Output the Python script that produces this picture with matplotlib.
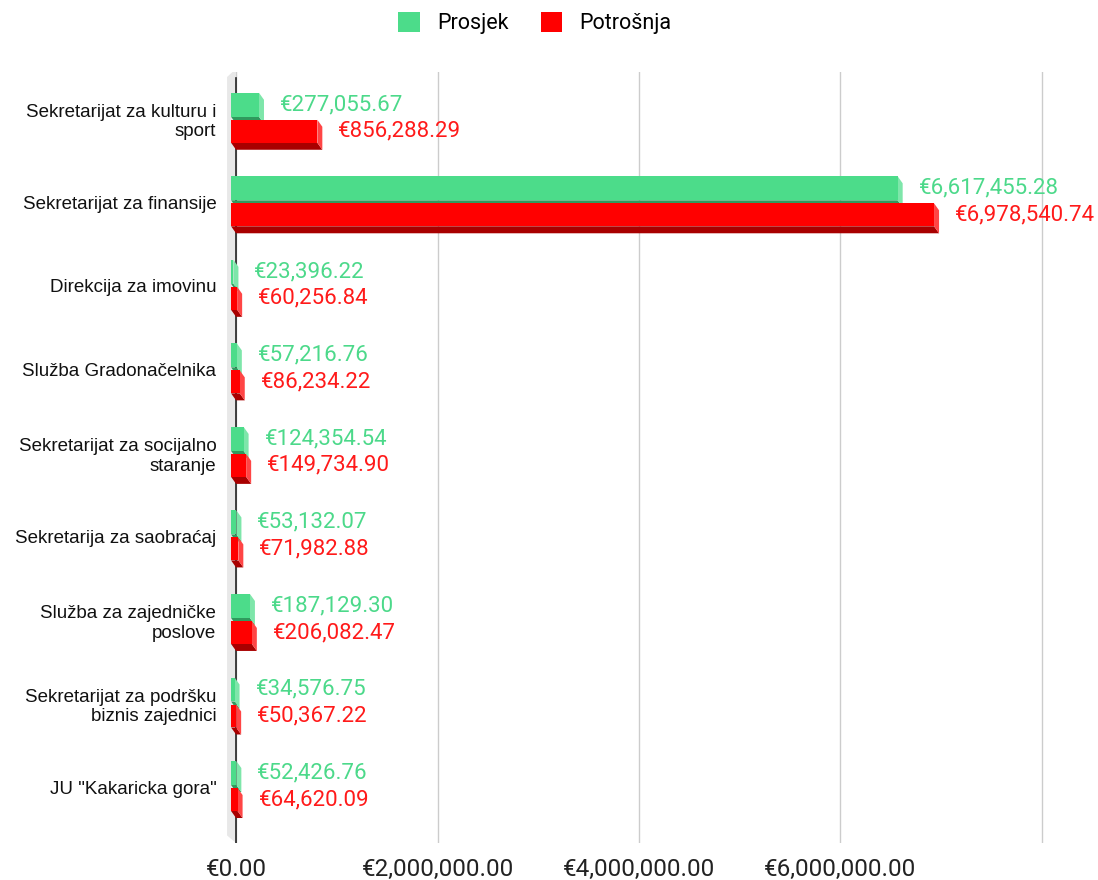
import matplotlib.pyplot as plt
from matplotlib.patches import Polygon, Patch

categories = [
    "Sekretarijat za kulturu i\nsport",
    "Sekretarijat za finansije",
    "Direkcija za imovinu",
    "Služba Gradonačelnika",
    "Sekretarijat za socijalno\nstaranje",
    "Sekretarija za saobraćaj",
    "Služba za zajedničke\nposlove",
    "Sekretarijat za podršku\nbiznis zajednici",
    'JU "Kakaricka gora"',
]
prosjek = [277055.67, 6617455.28, 23396.22, 57216.76, 124354.54,
           53132.07, 187129.30, 34576.75, 52426.76]
potrosnja = [856288.29, 6978540.74, 60256.84, 86234.22, 149734.90,
             71982.88, 206082.47, 50367.22, 64620.09]
ticks = [0, 2000000, 4000000, 6000000, 8000000]
tick_labels = ["€0.00", "€2,000,000.00", "€4,000,000.00", "€6,000,000.00", ""]

W, H = 1098, 880
fig = plt.figure(figsize=(W / 100, H / 100), dpi=100)
ax = fig.add_axes([226 / W, 1 - 843 / H, (1050 - 226) / W, (843 - 72) / H])
ax.set_xlim(-100000, 8080000)
ax.set_ylim(8.67, -0.56)

px = 8000000 / 806  # data units per pixel in x
dx = 5 * px
dy = 7 / 83.5

green, green_side, green_dark = "#4cdc8a", "#7ee6aa", "#2f9a5d"
red, red_side, red_dark = "#ff0000", "#ff4545", "#a80000"

# left wall of the 3d frame
ax.add_patch(Polygon([(-dx * 1.8, -0.5), (0, -0.6), (0, 8.67), (-dx * 1.8, 8.58)],
                     closed=True, facecolor="#e8e8e8", edgecolor="none", zorder=1))
ax.plot([0, 0], [-0.49, 8.67], color="#222222", lw=1.2, zorder=2)


def bar3d(v, top, bot, face, side, dark):
    x0, x1 = -dx, v - dx
    ax.add_patch(Polygon([(x0, bot), (x1, bot), (x1 + dx, bot + dy), (x0 + dx, bot + dy)],
                         closed=True, facecolor=dark, edgecolor="none", zorder=3))
    ax.add_patch(Polygon([(x1, top), (x1 + dx, top + dy), (x1 + dx, bot + dy), (x1, bot)],
                         closed=True, facecolor=side, edgecolor="none", zorder=3))
    ax.add_patch(Polygon([(x0, top), (x1, top), (x1, bot), (x0, bot)],
                         closed=True, facecolor=face, edgecolor="none", zorder=3))


for i in range(len(categories)):
    bar3d(prosjek[i], i - 0.311, i - 0.024, green, green_side, green_dark)
    bar3d(potrosnja[i], i + 0.012, i + 0.287, red, red_side, red_dark)
    ax.text(prosjek[i] + 16 * px, i - 0.17, "€{:,.2f}".format(prosjek[i]),
            color="#4cd98a", fontsize=16, family="Roboto", va="center", zorder=4)
    ax.text(potrosnja[i] + 16 * px, i + 0.15, "€{:,.2f}".format(potrosnja[i]),
            color="#ff1a1a", fontsize=16, family="Roboto", va="center", zorder=4)

ax.set_xticks(ticks)
ax.set_xticklabels(tick_labels, fontsize=17.5, family="Roboto", color="#222222")
ax.set_yticks(range(len(categories)))
ax.set_yticklabels(categories, fontsize=13.5, family="Liberation Sans", color="#111111")
ax.tick_params(axis="both", length=0)
ax.tick_params(axis="x", pad=11)
ax.tick_params(axis="y", pad=7)
ax.grid(axis="x", color="#cccccc", lw=1)
ax.set_axisbelow(True)
for s in ax.spines.values():
    s.set_visible(False)

handles = [Patch(facecolor=green, edgecolor="none", label="Prosjek"),
           Patch(facecolor=red, edgecolor="none", label="Potrošnja")]
fig.legend(handles=handles, loc="upper center", bbox_to_anchor=(0.487, 1.008), ncol=2,
           frameon=False, prop={"family": "Roboto", "size": 15.5},
           handlelength=1.0, handleheight=1.0, columnspacing=1.5, handletextpad=0.8)

fig.savefig("out.png", dpi=100)
